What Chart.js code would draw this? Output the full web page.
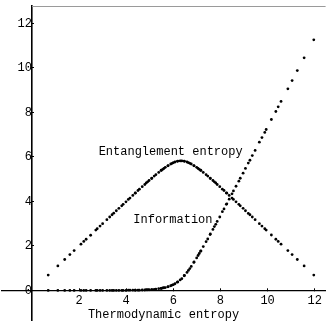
<!DOCTYPE html>
<html>
<head>
<meta charset="utf-8">
<script src="https://cdn.jsdelivr.net/npm/chart.js@4"></script>
<style>
  html, body { margin: 0; padding: 0; background: #fff; }
</style>
</head>
<body>
<canvas id="chart" width="327" height="322"></canvas>
<script>
// thermodynamic entropy (x) for each dot, same for both curves
const thermo = [
  0.69, 1.10, 1.39, 1.61, 1.79, 2.08, 2.20, 2.30, 2.49, 2.71,
  2.77, 2.89, 3.00, 3.18, 3.30, 3.40, 3.47, 3.58, 3.69, 3.81,
  3.87, 3.99, 4.09, 4.16, 4.28, 4.38, 4.39, 4.50, 4.56, 4.68,
  4.79, 4.85, 4.91, 4.97, 5.08, 5.09, 5.19, 5.26, 5.38, 5.48,
  5.49, 5.55, 5.60, 5.66, 5.77, 5.78, 5.89, 5.95, 6.00, 6.07,
  6.17, 6.19, 6.29,
  6.36, 6.46, 6.47, 6.58, 6.64, 6.70, 6.76, 6.87, 6.88, 6.99,
  7.05, 7.10, 7.16, 7.17, 7.27, 7.39, 7.46, 7.56, 7.57, 7.68,
  7.74, 7.80, 7.86, 7.97, 8.08, 8.15, 8.25, 8.27, 8.37, 8.49,
  8.55, 8.66, 8.78, 8.84, 8.96, 9.06, 9.18, 9.25, 9.35, 9.47,
  9.65, 9.76, 9.88, 9.94, 10.16, 10.35, 10.45, 10.57, 10.86, 11.04,
  11.26, 11.55, 11.96
];
const entanglement = [
  0.69, 1.10, 1.39, 1.61, 1.79, 2.08, 2.20, 2.30, 2.48, 2.71,
  2.77, 2.89, 3.00, 3.18, 3.30, 3.40, 3.47, 3.58, 3.69, 3.80,
  3.87, 3.98, 4.09, 4.15, 4.27, 4.37, 4.38, 4.49, 4.55, 4.66,
  4.76, 4.83, 4.88, 4.94, 5.03, 5.05, 5.14, 5.20, 5.30, 5.39,
  5.40, 5.44, 5.48, 5.53, 5.60, 5.61, 5.68, 5.71, 5.74, 5.77,
  5.80, 5.81, 5.82,
  5.82, 5.81, 5.80, 5.77, 5.74, 5.71, 5.68, 5.61, 5.60, 5.53,
  5.48, 5.44, 5.40, 5.39, 5.30, 5.20, 5.14, 5.05, 5.03, 4.94,
  4.88, 4.83, 4.76, 4.66, 4.55, 4.49, 4.38, 4.37, 4.27, 4.15,
  4.09, 3.98, 3.87, 3.80, 3.69, 3.58, 3.46, 3.40, 3.30, 3.18,
  3.00, 2.89, 2.77, 2.71, 2.49, 2.30, 2.20, 2.08, 1.79, 1.61,
  1.39, 1.10, 0.69
];
const information = [
  0.00, 0.00, 0.00, 0.00, 0.00, 0.00, 0.00, 0.00, 0.00, 0.00,
  0.00, 0.00, 0.00, 0.00, 0.00, 0.00, 0.00, 0.00, 0.00, 0.00,
  0.00, 0.00, 0.01, 0.01, 0.01, 0.01, 0.01, 0.01, 0.01, 0.02,
  0.02, 0.03, 0.03, 0.03, 0.04, 0.04, 0.05, 0.06, 0.08, 0.09,
  0.09, 0.11, 0.12, 0.13, 0.16, 0.17, 0.21, 0.24, 0.26, 0.30,
  0.37, 0.38, 0.47,
  0.53, 0.66, 0.67, 0.81, 0.90, 0.98, 1.08, 1.26, 1.28, 1.46,
  1.57, 1.66, 1.76, 1.78, 1.97, 2.19, 2.31, 2.51, 2.54, 2.74,
  2.87, 2.97, 3.10, 3.30, 3.54, 3.66, 3.87, 3.89, 4.10, 4.34,
  4.47, 4.68, 4.91, 5.04, 5.27, 5.48, 5.72, 5.85, 6.06, 6.29,
  6.66, 6.87, 7.10, 7.23, 7.68, 8.04, 8.25, 8.49, 9.06, 9.43,
  9.88, 10.45, 11.26
];
const curveNames = ['Entanglement entropy', 'Information'];
const xTicks = [2, 4, 6, 8, 10, 12];
const yTicks = [0, 2, 4, 6, 8, 10, 12];

const font = { family: '"Liberation Mono", "DejaVu Sans Mono", monospace', size: 12 };

const toPoints = ys => thermo.map((x, i) => ({ x: x, y: ys[i] }));

// text labels next to the curves + the grey frame line on top
const annotate = {
  id: 'annotate',
  afterDatasetsDraw(chart) {
    const { ctx, chartArea, scales } = chart;
    const x = scales.x, y = scales.y;
    ctx.save();
    ctx.strokeStyle = '#9a9a9a';
    ctx.lineWidth = 1;
    ctx.beginPath();
    ctx.moveTo(x.getPixelForValue(0), chartArea.top + 0.5);
    ctx.lineTo(chartArea.right, chartArea.top + 0.5);
    ctx.stroke();
    ctx.fillStyle = '#000';
    ctx.font = '12px "Liberation Mono", monospace';
    ctx.textBaseline = 'middle';
    ctx.fillText(curveNames[0], x.getPixelForValue(2.83), y.getPixelForValue(6.21));
    ctx.fillText(curveNames[1], x.getPixelForValue(4.30), y.getPixelForValue(3.16));
    ctx.restore();
  }
};

const noPad = s => { s.paddingTop = 0; s.paddingBottom = 0; s.paddingLeft = 0; s.paddingRight = 0; };

new Chart(document.getElementById('chart'), {
  type: 'scatter',
  data: {
    datasets: [
      { label: curveNames[0], data: toPoints(entanglement) },
      { label: curveNames[1], data: toPoints(information) }
    ]
  },
  options: {
    responsive: false,
    animation: false,
    devicePixelRatio: 1,
    layout: { padding: { top: 6, left: 0, right: 0, bottom: 0 } },
    elements: {
      point: { radius: 1.4, backgroundColor: '#000', borderWidth: 0, hoverRadius: 1.4 }
    },
    plugins: {
      legend: { display: false },
      tooltip: { enabled: false }
    },
    scales: {
      x: {
        type: 'linear',
        position: { y: 0 },
        min: -1.296,
        max: 12.461,
        afterBuildTicks: s => { s.ticks = xTicks.map(v => ({ value: v })); },
        afterFit: noPad,
        grid: { drawOnChartArea: false, color: '#000', tickLength: -3 },
        border: { color: '#000', width: 1.3 },
        ticks: { color: '#000', font: font, padding: 6, maxRotation: 0, autoSkip: false },
        title: { display: true, text: 'Thermodynamic entropy', color: '#000', font: font, padding: { top: -6, bottom: 0 } }
      },
      y: {
        type: 'linear',
        position: { x: 0 },
        min: -1.356,
        max: 12.78,
        afterBuildTicks: s => { s.ticks = yTicks.map(v => ({ value: v })); },
        afterFit: noPad,
        grid: { drawOnChartArea: false, color: '#000', tickLength: -3 },
        border: { color: '#000', width: 1.6 },
        ticks: { color: '#000', font: font, padding: 8, autoSkip: false }
      }
    }
  },
  plugins: [annotate]
});
</script>
</body>
</html>
